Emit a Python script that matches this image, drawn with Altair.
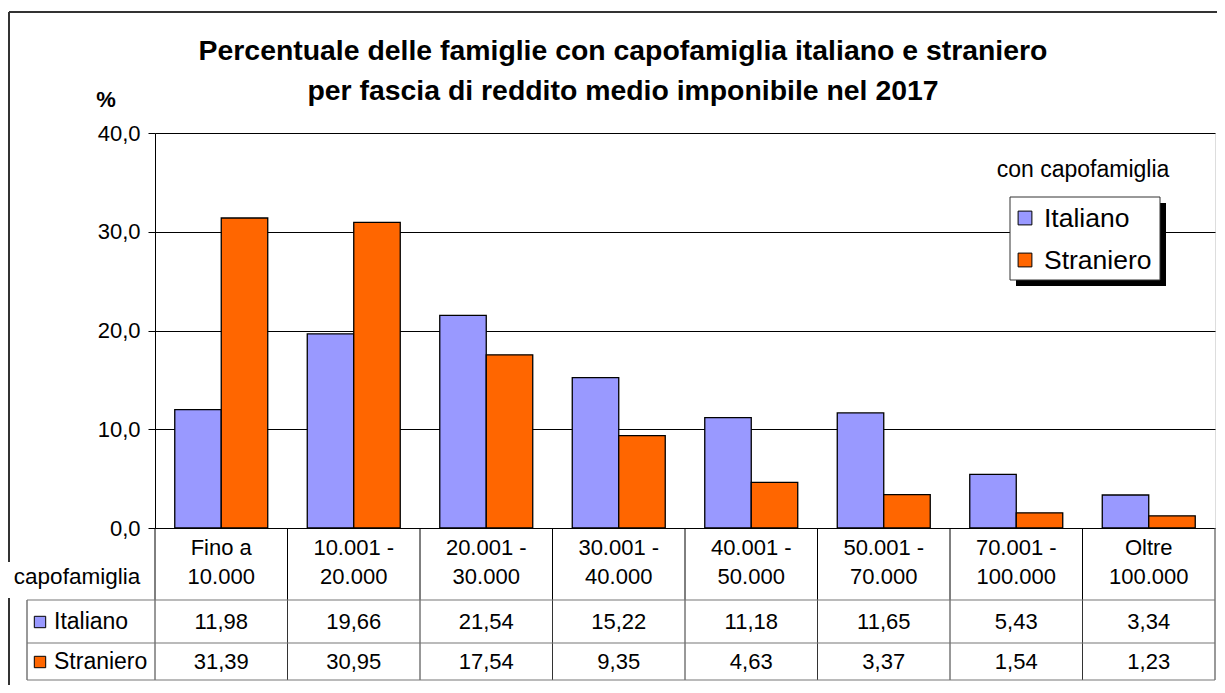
import altair as alt
import pandas as pd

categories = ["Fino a\n10.000", "10.001 -\n20.000", "20.001 -\n30.000", "30.001 -\n40.000",
              "40.001 -\n50.000", "50.001 -\n70.000", "70.001 -\n100.000", "Oltre\n100.000"]
series = ["Italiano", "Straniero"]
italiano = [11.98, 19.66, 21.54, 15.22, 11.18, 11.65, 5.43, 3.34]
straniero = [31.39, 30.95, 17.54, 9.35, 4.63, 3.37, 1.54, 1.23]
colors = ["#9999FF", "#FF6600"]
y_ticks = [0, 10, 20, 30, 40]
title_text = "Percentuale delle famiglie con capofamiglia italiano e straniero\nper fascia di reddito medio imponibile nel 2017"

rows = []
for i, c in enumerate(categories):
    rows.append({"category": c, "series": "Italiano", "value": italiano[i]})
    rows.append({"category": c, "series": "Straniero", "value": straniero[i]})
df = pd.DataFrame(rows)
cat_df = pd.DataFrame({"category": categories})
ser_df = pd.DataFrame({"series": series})
one = pd.DataFrame({"k": [0]})

FONT = "Liberation Sans"
W, H = 1060, 395

xscale = alt.Scale(domain=categories, paddingInner=0, paddingOuter=0)


def xenc(bp):
    return alt.X("category:N", sort=categories, scale=xscale, axis=None, bandPosition=bp)


color_scale = alt.Scale(domain=series, range=colors)
cenc = alt.Color("series:N", scale=color_scale, legend=None)

bars = alt.Chart(df).mark_bar(stroke="black", strokeWidth=1.3).encode(
    x=alt.X("category:N", sort=categories, scale=xscale, axis=None),
    xOffset=alt.XOffset("series:N", sort=series,
                        scale=alt.Scale(domain=series, paddingInner=0, paddingOuter=0.425)),
    y=alt.Y("value:Q", scale=alt.Scale(domain=[0, 40], nice=False),
            axis=alt.Axis(values=y_ticks,
                          labelExpr="replace(format(datum.value, '.1f'), '.', ',')",
                          grid=True, gridColor="black", gridWidth=1,
                          domainColor="black", tickColor="black", tickSize=7,
                          labelFontSize=22, labelPadding=8, labelFont=FONT,
                          labelColor="black", title=None)),
    color=cenc,
)

# table header: category labels
cat_text = alt.Chart(cat_df).mark_text(fontSize=22, font=FONT, color="black", baseline="middle",
                                       lineBreak="\n", lineHeight=29).encode(
    x=xenc(0.5), y=alt.value(415), text="category:N")

lbl_expr = "replace(format(datum.value, '.2f'), '.', ',')"
val_it = alt.Chart(df).transform_filter(alt.datum.series == "Italiano").transform_calculate(
    lbl=lbl_expr).mark_text(fontSize=22, font=FONT, color="black", baseline="middle").encode(
    x=xenc(0.5), y=alt.value(489), text="lbl:N")
val_st = alt.Chart(df).transform_filter(alt.datum.series == "Straniero").transform_calculate(
    lbl=lbl_expr).mark_text(fontSize=22, font=FONT, color="black", baseline="middle").encode(
    x=xenc(0.5), y=alt.value(529), text="lbl:N")

# table vertical lines
vlines_head = alt.Chart(cat_df).mark_rule(color="black", strokeWidth=1).encode(
    x=xenc(0), y=alt.value(395), y2=alt.value(467))
vlines_rows = alt.Chart(cat_df).mark_rule(color="#333333", strokeWidth=1).encode(
    x=xenc(0), y=alt.value(467), y2=alt.value(547))
base1 = alt.Chart(one)
vline_right = base1.mark_rule(color="#555555", strokeWidth=1.2).encode(
    x=alt.value(W), y=alt.value(395), y2=alt.value(547))
vline_left_box = base1.mark_rule(color="#555555", strokeWidth=1.2).encode(
    x=alt.value(-128), y=alt.value(467), y2=alt.value(547))
hlines = [base1.mark_rule(color="#777777", strokeWidth=1.2).encode(
    x=alt.value(-128), x2=alt.value(W), y=alt.value(yy)) for yy in (467, 510, 547)]

sbase = alt.Chart(ser_df)

# row labels in table
row_sq = [sbase.transform_filter(alt.datum.series == s).mark_point(
    shape="square", filled=True, stroke="black", strokeWidth=1, size=130, opacity=1).encode(
    x=alt.value(-115), y=alt.value(yy), color=cenc)
    for s, yy in (("Italiano", 489), ("Straniero", 529))]
row_lbl = [sbase.transform_filter(alt.datum.series == s).mark_text(
    fontSize=23, font=FONT, color="black", align="left", baseline="middle").encode(
    x=alt.value(-101), y=alt.value(yy), text="series:N")
    for s, yy in (("Italiano", 489), ("Straniero", 529))]
capo = base1.mark_text(fontSize=22.5, font=FONT, color="black", baseline="middle").encode(
    x=alt.value(-78), y=alt.value(444), text=alt.value("capofamiglia"))

# titles
title = base1.mark_text(fontSize=28.4, font=FONT, fontWeight="bold", color="black",
                        baseline="middle", lineBreak="\n", lineHeight=40).encode(
    x=alt.value(468), y=alt.value(-82), text=alt.value(title_text))
pct = base1.mark_text(fontSize=22, font=FONT, fontWeight="bold", color="black",
                      baseline="middle").encode(
    x=alt.value(-49), y=alt.value(-33), text=alt.value("%"))

# legend
leg_title = base1.mark_text(fontSize=23, font=FONT, color="black", baseline="middle").encode(
    x=alt.value(928), y=alt.value(37), text=alt.value("con capofamiglia"))
leg_shadow = base1.mark_rect(color="black").encode(
    x=alt.value(861), x2=alt.value(1011), y=alt.value(70), y2=alt.value(153))
leg_box = base1.mark_rect(fill="white", stroke="#333333", strokeWidth=1).encode(
    x=alt.value(855), x2=alt.value(1005), y=alt.value(64), y2=alt.value(147))
leg_sq = [sbase.transform_filter(alt.datum.series == s).mark_point(
    shape="square", filled=True, stroke="black", strokeWidth=1, size=190, opacity=1).encode(
    x=alt.value(870), y=alt.value(yy), color=cenc)
    for s, yy in (("Italiano", 85), ("Straniero", 127))]
leg_lbl = [sbase.transform_filter(alt.datum.series == s).mark_text(
    fontSize=26.5, font=FONT, color="black", align="left", baseline="middle").encode(
    x=alt.value(889), y=alt.value(yy), text="series:N")
    for s, yy in (("Italiano", 86), ("Straniero", 128))]

# outer frame
frame = [
    base1.mark_rule(color="#333333", strokeWidth=2).encode(
        x=alt.value(-146), x2=alt.value(W + 2), y=alt.value(-121)),
    base1.mark_rule(color="#333333", strokeWidth=2).encode(
        x=alt.value(-146), y=alt.value(-121), y2=alt.value(429)),
    base1.mark_rule(color="#333333", strokeWidth=2).encode(
        x=alt.value(-146), y=alt.value(465), y2=alt.value(552)),
]

layers = [bars, cat_text, val_it, val_st, vlines_head, vlines_rows, vline_right, vline_left_box,
          *hlines, *row_sq, *row_lbl, capo, title, pct, leg_title, leg_shadow, leg_box,
          *leg_sq, *leg_lbl, *frame]

chart = alt.layer(*layers).properties(
    width=W, height=H,
    padding={"left": 147, "top": 125, "right": 2, "bottom": 157},
    autosize="none",
    background="white",
).configure_view(stroke="black", strokeWidth=1.2).configure(font=FONT)

chart.save("out.html", embed_options={"renderer": "svg", "actions": False})
